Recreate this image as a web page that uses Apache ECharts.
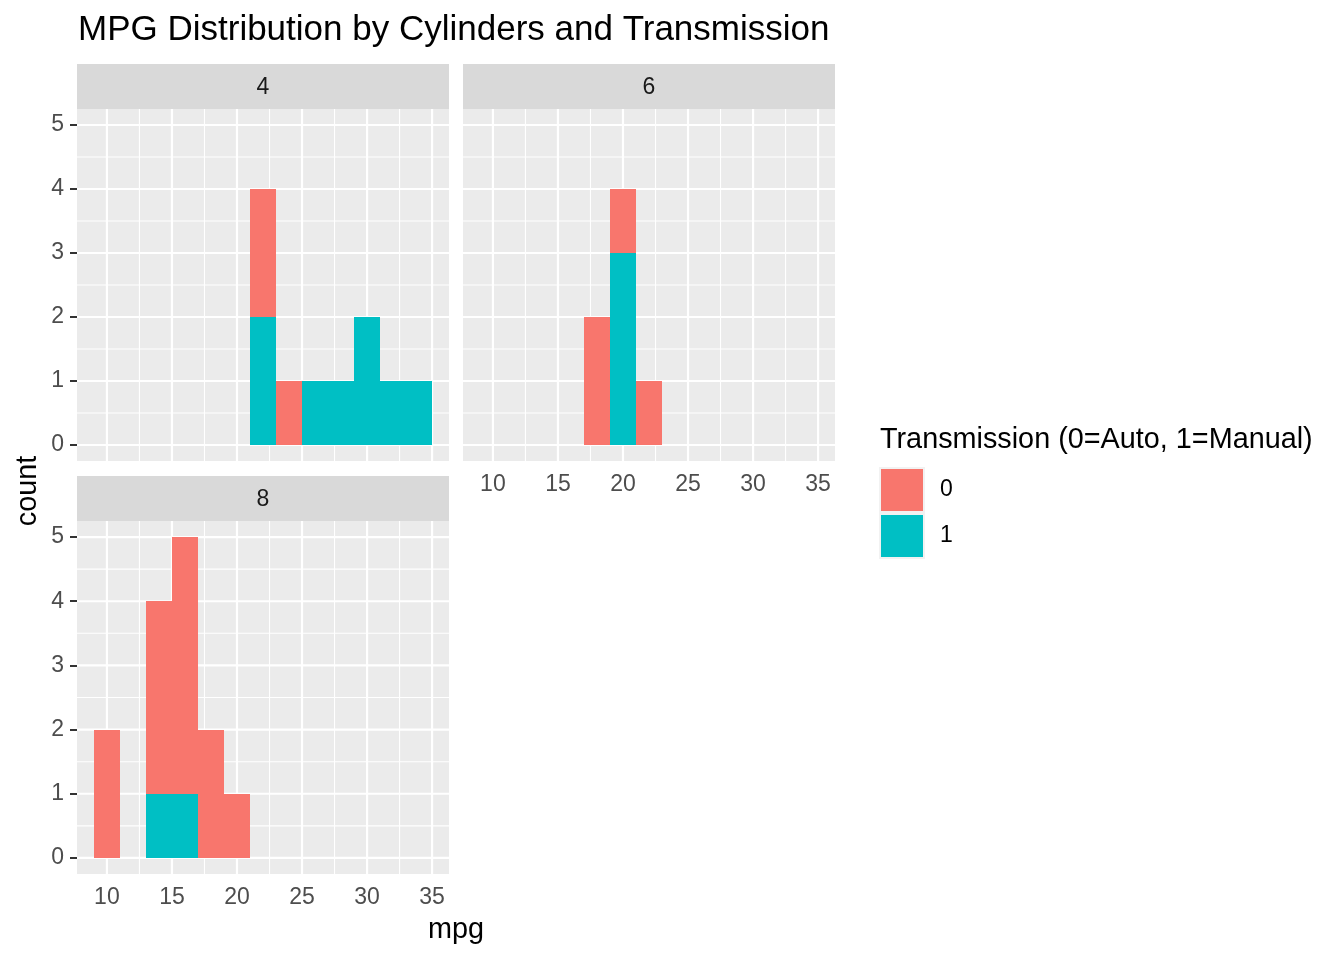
<!DOCTYPE html>
<html><head><meta charset="utf-8">
<script src="https://cdn.jsdelivr.net/npm/echarts@6/dist/echarts.min.js"></script>
<style>html,body{margin:0;padding:0;background:#fff}#c{width:1344px;height:960px}</style>
</head><body><div id="c"></div>
<script>
// ---- data (histogram of mpg, binwidth 2, by cylinders & transmission) ----
const binStarts = [9, 11, 13, 15, 17, 19, 21, 23, 25, 27, 29, 31, 33];
const binWidth = 2;
const panelNames = ['4', '6', '8'];
const cyl4Auto   = [0, 0, 0, 0, 0, 0, 2, 1, 0, 0, 0, 0, 0];
const cyl4Manual = [0, 0, 0, 0, 0, 0, 2, 0, 1, 1, 2, 1, 1];
const cyl6Auto   = [0, 0, 0, 0, 2, 1, 1, 0, 0, 0, 0, 0, 0];
const cyl6Manual = [0, 0, 0, 0, 0, 3, 0, 0, 0, 0, 0, 0, 0];
const cyl8Auto   = [2, 0, 3, 4, 2, 1, 0, 0, 0, 0, 0, 0, 0];
const cyl8Manual = [0, 0, 1, 1, 0, 0, 0, 0, 0, 0, 0, 0, 0];
const xTicks = [10, 15, 20, 25, 30, 35];
const xMinorTicks = [12.5, 17.5, 22.5, 27.5, 32.5];
const yTicks = [0, 1, 2, 3, 4, 5];
const yMinorTicks = [0.5, 1.5, 2.5, 3.5, 4.5];
const fillLevels = ['0', '1'];

// ---- styling / layout ----
const FONT = '"Liberation Sans", Arial, sans-serif';
const colors = { '0': '#F8766D', '1': '#00BFC4' };
const grids = [
  { left: 77, top: 109, width: 372, height: 352 },
  { left: 463, top: 109, width: 372, height: 352 },
  { left: 77, top: 521, width: 372, height: 353 }
];
const strips = [
  { x: 77, y: 64, w: 372, h: 45 },
  { x: 463, y: 64, w: 372, h: 45 },
  { x: 77, y: 476, w: 372, h: 45 }
];
const xMin = 9 - 0.05 * 26, xMax = 35 + 0.05 * 26;
const yMin = -0.25, yMax = 5.25;

const autoSets = [cyl4Auto, cyl6Auto, cyl8Auto];
const manualSets = [cyl4Manual, cyl6Manual, cyl8Manual];

function barsFor(counts, bases) {
  const out = [];
  counts.forEach((c, i) => {
    if (c > 0) {
      const b = bases ? bases[i] : 0;
      out.push([binStarts[i], binStarts[i] + binWidth, b, b + c]);
    }
  });
  return out;
}

function renderBar(params, api) {
  const p0 = api.coord([api.value(0), api.value(2)]);
  const p1 = api.coord([api.value(1), api.value(3)]);
  const x0 = Math.round(p0[0]), x1 = Math.round(p1[0]);
  const yb = Math.round(p0[1]), yt = Math.round(p1[1]);
  return {
    type: 'rect',
    shape: { x: x0, y: yt, width: x1 - x0, height: yb - yt },
    style: { fill: api.visual('color') }
  };
}
function vLine(w) {
  return function (params, api) {
    const cs = params.coordSys;
    const x = api.coord([api.value(0), 0])[0];
    return { type: 'line', shape: { x1: x, y1: cs.y, x2: x, y2: cs.y + cs.height },
      style: { stroke: '#FFFFFF', lineWidth: w } };
  };
}
function hLine(w) {
  return function (params, api) {
    const cs = params.coordSys;
    const y = api.coord([10, api.value(1)])[1];
    return { type: 'line', shape: { x1: cs.x, y1: y, x2: cs.x + cs.width, y2: y },
      style: { stroke: '#FFFFFF', lineWidth: w } };
  };
}

const xAxes = [], yAxes = [], series = [], graphics = [];
grids.forEach((g, i) => {
  const showX = i !== 0;
  const showY = i !== 1;
  xAxes.push({
    type: 'value', gridIndex: i, min: xMin, max: xMax,
    axisLine: { show: false }, splitLine: { show: false },
    axisTick: { show: showX, length: 7, customValues: xTicks, lineStyle: { color: '#333333', width: 2 } },
    axisLabel: { show: showX, customValues: xTicks, margin: 12, fontSize: 23, color: '#4D4D4D', fontFamily: FONT }
  });
  yAxes.push({
    type: 'value', gridIndex: i, min: yMin, max: yMax,
    axisLine: { show: false }, splitLine: { show: false },
    axisTick: { show: showY, length: 7, customValues: yTicks, lineStyle: { color: '#333333', width: 2 } },
    axisLabel: { show: showY, customValues: yTicks, margin: 13, fontSize: 23, color: '#4D4D4D', fontFamily: FONT,
      padding: [2, 0, 0, 0] }
  });
  // grid lines
  series.push({ type: 'custom', xAxisIndex: i, yAxisIndex: i, z: 1, silent: true,
    renderItem: vLine(1.1), data: xMinorTicks.map(v => [v, 0]) });
  series.push({ type: 'custom', xAxisIndex: i, yAxisIndex: i, z: 1, silent: true,
    renderItem: hLine(1.1), data: yMinorTicks.map(v => [10, v]) });
  series.push({ type: 'custom', xAxisIndex: i, yAxisIndex: i, z: 1, silent: true,
    renderItem: vLine(2.2), data: xTicks.map(v => [v, 0]) });
  series.push({ type: 'custom', xAxisIndex: i, yAxisIndex: i, z: 1, silent: true,
    renderItem: hLine(2.2), data: yTicks.map(v => [10, v]) });
  // bars: manual (1) at bottom, auto (0) stacked on top
  series.push({ type: 'custom', name: '1', xAxisIndex: i, yAxisIndex: i, z: 2,
    itemStyle: { color: colors['1'] }, renderItem: renderBar,
    encode: { x: [0, 1], y: [2, 3] }, data: barsFor(manualSets[i], null) });
  series.push({ type: 'custom', name: '0', xAxisIndex: i, yAxisIndex: i, z: 2,
    itemStyle: { color: colors['0'] }, renderItem: renderBar,
    encode: { x: [0, 1], y: [2, 3] }, data: barsFor(autoSets[i], manualSets[i]) });
  // strips
  const s = strips[i];
  graphics.push({ type: 'rect', shape: { x: s.x, y: s.y, width: s.w, height: s.h },
    style: { fill: '#D9D9D9' }, z: 0, silent: true });
  graphics.push({ type: 'text', x: s.x + s.w / 2, y: s.y + s.h / 2 + 1,
    style: { text: panelNames[i], fontSize: 23, fontFamily: FONT, fill: '#1A1A1A', align: 'center', verticalAlign: 'middle' }, z: 1 });
});

// axis titles
graphics.push({ type: 'text', x: 28, y: 491, rotation: Math.PI / 2,
  style: { text: 'count', fontSize: 28.8, fontFamily: FONT, fill: '#000', align: 'center', verticalAlign: 'middle' } });
graphics.push({ type: 'text', x: 456, y: 930,
  style: { text: 'mpg', fontSize: 28.8, fontFamily: FONT, fill: '#000', align: 'center', verticalAlign: 'middle' } });
// legend title & key backgrounds
graphics.push({ type: 'text', x: 880, y: 440,
  style: { text: 'Transmission (0=Auto, 1=Manual)', fontSize: 28.8, fontFamily: FONT, fill: '#000', align: 'left', verticalAlign: 'middle' } });
graphics.push({ type: 'rect', shape: { x: 879, y: 467, width: 46, height: 46 }, style: { fill: '#F2F2F2' }, z: 0 });
graphics.push({ type: 'rect', shape: { x: 879, y: 513, width: 46, height: 46 }, style: { fill: '#F2F2F2' }, z: 0 });

const chart = echarts.init(document.getElementById('c'), null, { renderer: 'canvas' });
chart.setOption({
  animation: false,
  backgroundColor: '#FFFFFF',
  title: { text: 'MPG Distribution by Cylinders and Transmission', left: 78, top: 13, padding: 0,
    textStyle: { fontSize: 35, fontWeight: 'normal', color: '#000', fontFamily: FONT } },
  grid: grids.map(g => Object.assign({ show: true, backgroundColor: '#EBEBEB', borderWidth: 0 }, g)),
  xAxis: xAxes,
  yAxis: yAxes,
  legend: { data: fillLevels, orient: 'vertical', left: 881, top: 469, padding: 0,
    itemWidth: 42, itemHeight: 42, itemGap: 4, icon: 'rect', selectedMode: false,
    textStyle: { fontSize: 23, fontFamily: FONT, color: '#000', padding: [3, 0, 0, 12] } },
  graphic: graphics,
  series: series
});
</script></body></html>
